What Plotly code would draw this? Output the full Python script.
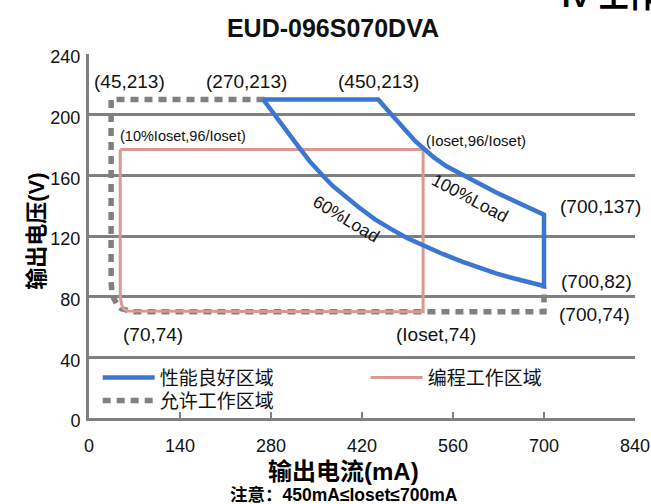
import plotly.graph_objects as go

# ---- data ----
# 允许工作区域 (allowed operating area, dashed grey outline)
allow_i = [270, 34, 34, 35, 38, 43, 50, 60, 68, 700, 700]
allow_v = [210, 210, 90, 84, 79, 75, 72, 70.5, 70, 70, 86]

# 编程工作区域 (programming area, pink outline)
prog_i = [48, 514, 514, 70, 60, 53, 50, 48.5, 48, 48]
prog_v = [177, 177, 70, 70, 70.5, 72, 75, 79, 84, 177]

# 性能良好区域 (good performance area, blue outline)
good_top_i = [268, 445]
good_top_v = [210, 210]
load100_i = [455, 465, 478, 490, 502, 514, 530, 550, 575, 601, 625, 650, 675, 700]
load100_v = [205, 200, 193.5, 187.5, 182.5, 178, 172, 166, 160, 154.5, 149, 144, 139, 134]
load60_i = [700, 675, 650, 625, 601, 575, 545, 514, 490, 465, 440, 415, 395, 375, 357, 340,
            324, 310, 296, 282, 268]
load60_v = [87, 89.5, 92.5, 95.5, 99, 103, 108, 113.5, 118.5, 124.5, 131, 139, 146, 153, 161,
            169, 178, 186, 195, 203, 210]

good_i = good_top_i + load100_i + load60_i
good_v = good_top_v + load100_v + load60_v

x_ticks = [0, 140, 280, 420, 560, 700, 840]
y_ticks = [0, 40, 80, 120, 160, 200, 240]

point_labels = ["(45,213)", "(270,213)", "(450,213)", "(10%Ioset,96/Ioset)", "(Ioset,96/Ioset)",
                "(700,137)", "(700,82)", "(700,74)", "(Ioset,74)", "(70,74)"]
point_label_x = [63, 243, 445, 144, 596, 787, 781, 778, 534, 98]
point_label_y = [222, 222, 222, 186, 183, 139.4, 90, 68, 55, 55]
point_label_size = [19, 19, 19, 14.5, 15, 19, 19, 19, 19, 19]

load_labels = ["100%Load", "60%Load"]
load_label_x = [586, 396]
load_label_y = [145, 131]
load_label_angle = [28, 31]

FONT = "Arial, Liberation Sans, Noto Sans CJK SC, sans-serif"
GREY = "#808080"
BLUE = "#3B77D0"
PINK = "#DB9794"

fig = go.Figure()
fig.add_trace(go.Scatter(x=allow_i, y=allow_v, mode="lines", name="允许工作区域", legend="legend3",
                         line=dict(color=GREY, width=5.5, dash="8px,6px")))
fig.add_trace(go.Scatter(x=prog_i, y=prog_v, mode="lines", name="编程工作区域", legend="legend2",
                         line=dict(color=PINK, width=3)))
fig.add_trace(go.Scatter(x=good_i, y=good_v, mode="lines", name="性能良好区域", legend="legend",
                         line=dict(color=BLUE, width=4.5)))

annotations = []
for t, x, y, s in zip(point_labels, point_label_x, point_label_y, point_label_size):
    annotations.append(dict(x=x, y=y, xref="x", yref="y", text=t, showarrow=False,
                            font=dict(size=s, color="#111111", family=FONT)))
for t, x, y, a in zip(load_labels, load_label_x, load_label_y, load_label_angle):
    annotations.append(dict(x=x, y=y, xref="x", yref="y", text=t, showarrow=False, textangle=a,
                            font=dict(size=17.5, color="#111111", family=FONT)))

annotations += [
    dict(x=0.4665, y=-0.147, xref="paper", yref="paper", text="<b>输出电流(mA)</b>", showarrow=False,
         yanchor="middle", font=dict(size=24, color="#000000", family=FONT)),
    dict(x=0.4665, y=-0.212, xref="paper", yref="paper", text="<b>注意：450mA≤Ioset≤700mA</b>",
         showarrow=False, yanchor="middle", font=dict(size=17.5, color="#000000", family=FONT)),
    dict(x=-0.1233, y=0.512, xref="paper", yref="paper", text="<b>输出电压(V)</b>", showarrow=False,
         textangle=-90, font=dict(size=22, color="#000000", family=FONT)),
    dict(x=0.862, y=1.1085, xref="paper", yref="paper", text="<b>IV 工作区域</b>", showarrow=False,
         xanchor="left", yanchor="bottom", font=dict(size=30, color="#000000", family=FONT)),
]

leg_common = dict(orientation="h", xanchor="left", yanchor="middle", bgcolor="rgba(0,0,0,0)",
                  font=dict(size=19, family=FONT, color="#111111"), itemwidth=52)

fig.update_layout(
    width=651, height=504,
    margin=dict(l=89, r=16, t=54, b=86, autoexpand=False),
    paper_bgcolor="white", plot_bgcolor="white",
    font=dict(family=FONT, size=18, color="#111111"),
    title=dict(text="<b>EUD-096S070DVA</b>", x=0.5115, xref="container", xanchor="center",
               y=1 - 28 / 504, yref="container", yanchor="middle",
               font=dict(size=25, color="#111111", family=FONT)),
    showlegend=True,
    legend=dict(x=0.0159, y=0.111, **leg_common),
    legend2=dict(x=0.5068, y=0.111, **leg_common),
    legend3=dict(x=0.0159, y=0.048, **leg_common),
    annotations=annotations,
)
fig.update_xaxes(range=[0, 840], tickvals=x_ticks, ticks="inside", ticklen=6, tickwidth=2,
                 tickcolor=GREY, showline=True, linecolor=GREY, linewidth=3, showgrid=False,
                 zeroline=False, ticklabelstandoff=9, tickfont=dict(size=18), automargin=False)
fig.update_yaxes(range=[0, 240], tickvals=y_ticks, showline=True, linecolor=GREY, linewidth=3,
                 showgrid=True, gridcolor=GREY, gridwidth=2.5, zeroline=False, ticks="",
                 ticklabelstandoff=2, ticklabelshift=3, tickfont=dict(size=18), automargin=False)

fig.write_html("out.html", config={"displayModeBar": False},
               post_script="document.body.style.margin='0';document.body.style.overflow='hidden';")
